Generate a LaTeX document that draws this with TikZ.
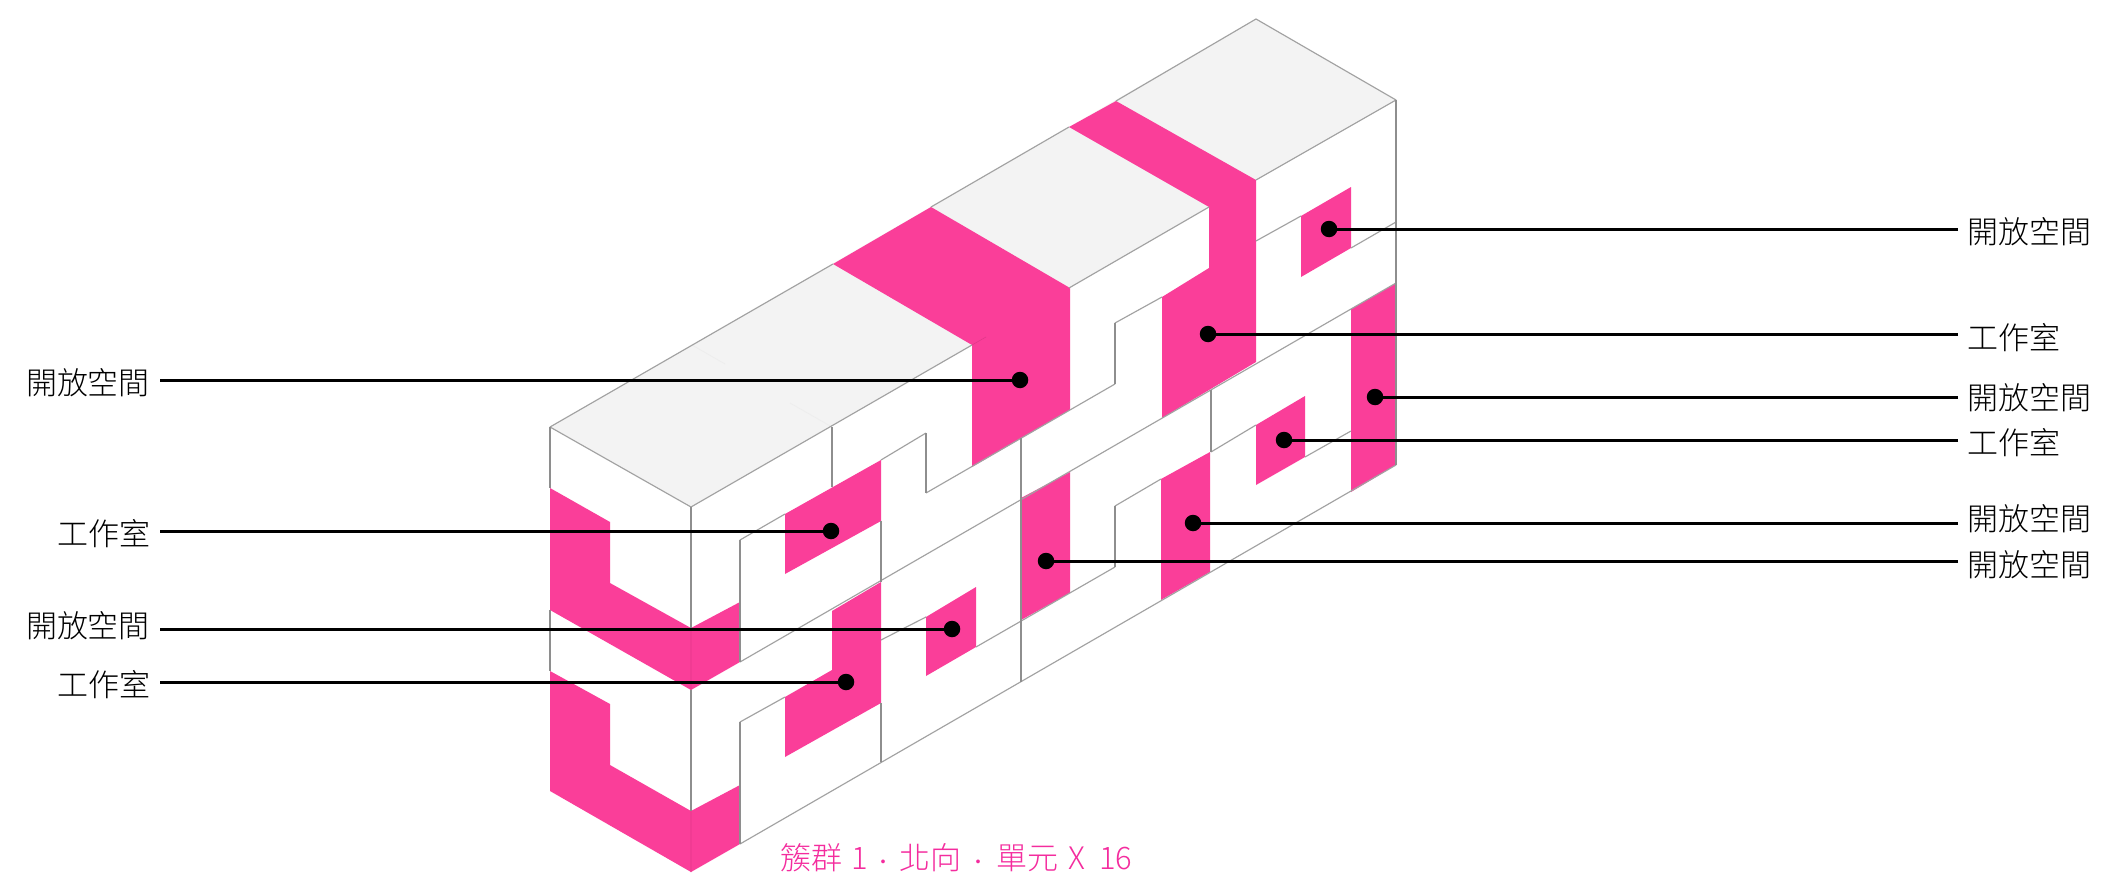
\documentclass[tikz,border=0pt]{standalone}
\usepackage{fontspec}
\setmainfont{Noto Sans CJK TC}[UprightFont=* Light]
\definecolor{hotpink}{HTML}{FA3E99}
\definecolor{topgrey}{HTML}{F3F3F3}
\definecolor{edgegrey}{HTML}{A2A2A2}
\definecolor{vgrey}{HTML}{8E8E8E}
\definecolor{capcol}{HTML}{F42C9E}
\colorlet{seamcol}{black!7}
\tikzset{
  x=1pt,y=-1pt,
  pinkface/.style={fill=hotpink,draw=none},
  topface/.style={fill=topgrey,draw=none},
  edge/.style={draw=edgegrey,line width=1.15pt,line join=miter},
  vedge/.style={draw=vgrey,line width=1.05pt},
  seam/.style={draw=seamcol,line width=.8pt},
  inpink/.style={draw=hotpink!90!black,line width=.6pt},
  dotnode/.style={circle,fill=black,minimum size=16.5pt,inner sep=0pt,outer sep=0pt},
  leader/.style={line width=3pt,black},
  lab/.style={font=\fontsize{31}{31}\selectfont,text=black,inner sep=0pt,outer sep=0pt},
}
\newcommand{\smalldot}{{\fontsize{20}{20}\selectfont ·}}
\begin{document}
\begin{tikzpicture}
\useasboundingbox (0,0) rectangle (2113,888);
\fill[white] (0,0) rectangle (2113,888);
% top faces
\path[topface] (550,427)--(1256,19)--(1396,100)--(1256,180)--(1069,288)--(972,345)--(691,507)--cycle;
% pink faces
\path[pinkface] (833,264)--(931,207)--(1070,288)--(1070,410)--(972,467)--(972,345)--cycle;
\path[pinkface] (1116,101)--(1256,180)--(1256,362)--(1162,418)--(1162,297)--(1209,268)--(1209,207)--(1069,127)--cycle;
\path[pinkface] (1301,216)--(1351,187)--(1351,248)--(1301,277)--cycle;
\path[pinkface] (1351,309)--(1396,283)--(1396,465)--(1351,492)--cycle;
\path[pinkface] (1256,425)--(1305,396)--(1305,457)--(1256,485)--cycle;
\path[pinkface] (1161,479)--(1210,452)--(1210,572)--(1161,600)--cycle;
\path[pinkface] (1021,498)--(1070,472)--(1070,593)--(1021,620)--cycle;
\path[pinkface] (926,617)--(976,587)--(976,647)--(926,676)--cycle;
\path[pinkface] (785,514)--(881,460)--(881,521)--(785,574)--cycle;
\path[pinkface] (832,611)--(881,582)--(881,703)--(785,757)--(785,697)--(832,670)--cycle;
\path[pinkface] (550,488)--(610,522)--(610,583)--(691,628)--(740,602)--(740,662)--(691,690)--(550,610)--cycle;
\path[pinkface] (550,671)--(610,704)--(610,765)--(691,811)--(740,785)--(740,844)--(691,872)--(550,791)--cycle;
% faint lines
\draw[seam] (692,345)--(725,364) (790,403)--(832,427);
\draw[inpink] (972,345)--(986,337) (691,628)--(691,690) (691,811)--(691,872);
% grey edges
\draw[edge] (550,427)--(833,264) (931,207)--(1069,127) (1116,101)--(1256,19)--(1396,100);
\draw[edge] (1396,465)--(740,844);
\draw[edge] (550,427)--(691,507)--(972,345);
\draw[edge] (1069,288)--(1209,207);
\draw[edge] (1256,180)--(1396,100);
\draw[edge] (740,540)--(785,514);
\draw[edge] (740,662)--(1396,283);
\draw[edge] (881,460)--(926,433);
\draw[edge] (926,493)--(1115,384);
\draw[edge] (1115,323)--(1162,297);
\draw[edge] (740,722)--(785,697);
\draw[edge] (881,640)--(926,617);
\draw[edge] (976,647)--(1115,567);
\draw[edge] (1115,506)--(1161,479);
\draw[edge] (1211,452)--(1256,425);
\draw[edge] (1305,457)--(1351,431);
\draw[edge] (1256,241)--(1301,216);
\draw[edge] (1351,248)--(1396,222);
% vertical edges
\draw[vedge] (550,427)--(550,488) (550,610)--(550,671);
\draw[vedge] (1396,100)--(1396,465);
\draw[vedge] (691,507)--(691,628) (691,690)--(691,811);
\draw[vedge] (832,427)--(832,487);
\draw[vedge] (881,521)--(881,582) (881,703)--(881,762);
\draw[vedge] (740,540)--(740,662) (740,722)--(740,844);
\draw[vedge] (926,433)--(926,493);
\draw[vedge] (1115,323)--(1115,384) (1115,506)--(1115,567);
\draw[vedge] (1021,438)--(1021,682);
\draw[vedge] (1211,390)--(1211,452);
% dots
\node[dotnode] (dl1) at (1020,380) {};
\node[dotnode] (dl2) at (831,531) {};
\node[dotnode] (dl3) at (952,629) {};
\node[dotnode] (dl4) at (846,682) {};
\node[dotnode] (dr1) at (1329,229) {};
\node[dotnode] (dr2) at (1208,334) {};
\node[dotnode] (dr3) at (1375,397) {};
\node[dotnode] (dr4) at (1284,440) {};
\node[dotnode] (dr5) at (1193,523) {};
\node[dotnode] (dr6) at (1046,561) {};
% labels
\node[lab,anchor=east] (ll1) at (150,383) {開放空間};
\node[lab,anchor=east] (ll2) at (150,534) {工作室};
\node[lab,anchor=east] (ll3) at (150,626) {開放空間};
\node[lab,anchor=east] (ll4) at (150,685) {工作室};
\node[lab,anchor=west] (lr1) at (1967,232) {開放空間};
\node[lab,anchor=west] (lr2) at (1967,338) {工作室};
\node[lab,anchor=west] (lr3) at (1967,398) {開放空間};
\node[lab,anchor=west] (lr4) at (1967,443) {工作室};
\node[lab,anchor=west] (lr5) at (1967,519) {開放空間};
\node[lab,anchor=west] (lr6) at (1967,565) {開放空間};
% leaders
\foreach \a/\b in {ll1/dl1,ll2/dl2,ll3/dl3,ll4/dl4}
  \draw[leader,shorten <=10pt] (\a.east |- \b) -- (\b);
\foreach \a/\b in {lr1/dr1,lr2/dr2,lr3/dr3,lr4/dr4,lr5/dr5,lr6/dr6}
  \draw[leader,shorten <=9pt] (\a.west |- \b) -- (\b);
% caption
\node[lab,text=capcol,anchor=west] (cap) at (780,858) {簇群\hspace{10pt}1\hspace{5pt}\smalldot\hspace{6pt}北向\hspace{7pt}\smalldot\hspace{8pt}單元\hspace{10pt}X\hspace{14pt}16};
\end{tikzpicture}
\end{document}
